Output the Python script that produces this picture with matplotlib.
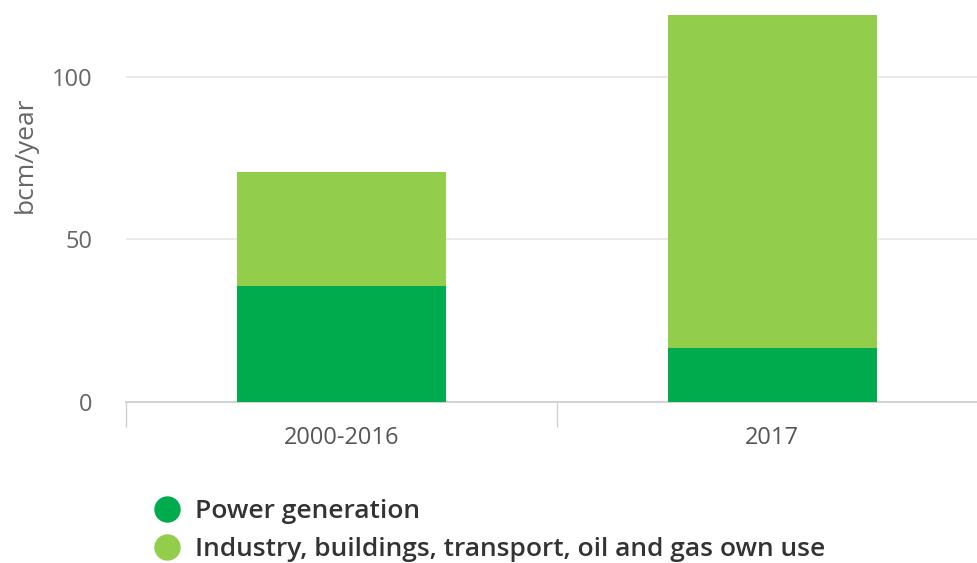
import matplotlib
matplotlib.use("Agg")
import matplotlib.pyplot as plt
from matplotlib.lines import Line2D

plt.rcParams['font.family'] = ['Open Sans', 'DejaVu Sans']

periods = ['2000-2016', '2017']
power = [35.7, 16.6]
other = [35.1, 102.4]
series_names = ['Power generation', 'Industry, buildings, transport, oil and gas own use']

dark_green = '#00ab4e'
light_green = '#92ce4c'

fig = plt.figure(figsize=(9.78, 5.63), dpi=100)
ax = fig.add_axes([0.1288, 0.286, 0.8712, 0.714])

x = range(len(periods))
ax.bar(x, power, width=0.485, color=dark_green, zorder=3)
ax.bar(x, other, width=0.485, bottom=power, color=light_green, zorder=3)

ax.set_xlim(-0.5, 1.478)
ax.set_ylim(0, 123.7)
ax.set_yticks([0, 50, 100])
ax.yaxis.grid(True, color='#e6e6e6', linewidth=1.2, zorder=0)
ax.tick_params(axis='y', length=0, pad=24, labelsize=17, labelcolor='#666666')

# category labels sit between the boundary ticks
ax.set_xticks([-0.5, 0.5])
ax.set_xticklabels([])
ax.set_xticks(list(x), minor=True)
ax.set_xticklabels(periods, minor=True)
ax.tick_params(axis='x', which='major', length=18, width=1, color='#d0d0d0')
ax.tick_params(axis='x', which='minor', length=0, pad=17, labelsize=17, labelcolor='#555555')

for side in ['top', 'right', 'left']:
    ax.spines[side].set_visible(False)
ax.spines['bottom'].set_color('#cccccc')
ax.spines['bottom'].set_linewidth(1.2)

ax.set_ylabel('bcm/year', fontsize=19, color='#666666')
ax.yaxis.set_label_coords(-0.104, 0.614)

handles = [Line2D([], [], marker='o', linestyle='', markersize=18, color=c)
           for c in (dark_green, light_green)]
fig.legend(handles, series_names, loc='upper left', bbox_to_anchor=(0.152, 0.114),
           frameon=False, handlelength=1.4, handletextpad=0.36, labelspacing=0.51,
           prop={'weight': 'semibold', 'size': 19}, labelcolor='#333333',
           borderaxespad=0, borderpad=0)

fig.savefig('out.png', dpi=100)
